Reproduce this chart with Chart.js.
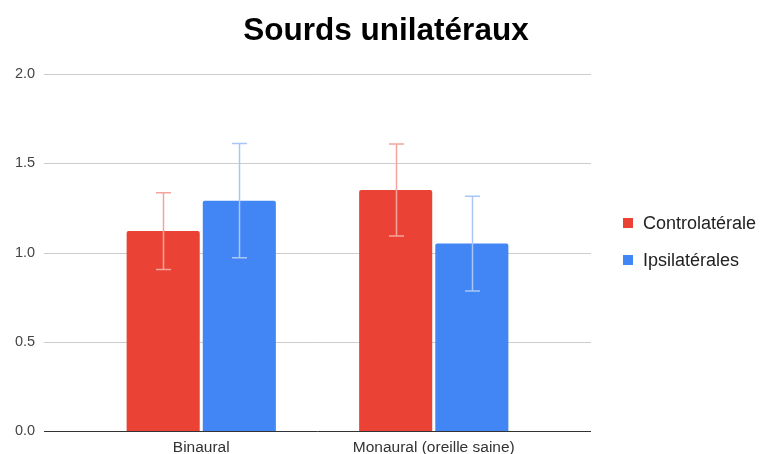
<!DOCTYPE html>
<html>
<head>
<meta charset="utf-8">
<script src="https://cdn.jsdelivr.net/npm/chart.js@4/dist/chart.umd.min.js"></script>
<style>
  html, body { margin: 0; padding: 0; background: #fff; }
  canvas { display: block; }
</style>
</head>
<body>
<canvas id="chart" width="760" height="454"></canvas>
<script>
// Chart data
const categories = ['Binaural', 'Monaural (oreille saine)'];
const seriesNames = ['Controlatérale', 'Ipsilatérales'];
const controlaterale = [1.12, 1.35];
const controlateraleErr = [0.215, 0.258];
const ipsilaterales = [1.29, 1.05];
const ipsilateralesErr = [0.32, 0.265];
const yTicks = [0, 0.5, 1.0, 1.5, 2.0];
const chartTitle = 'Sourds unilatéraux';

const FONT = "'Liberation Sans', Arial, Helvetica, sans-serif";
Chart.defaults.font.family = FONT;

// Horizontal grid lines spanning the full plot width, plus the baseline
const gridPlugin = {
  id: 'wideGrid',
  beforeDatasetsDraw(chart) {
    const { ctx } = chart;
    const y = chart.scales.y;
    const left = 44, right = 591;
    ctx.save();
    yTicks.forEach(v => {
      const py = Math.round(y.getPixelForValue(v)) + 0.5;
      ctx.beginPath();
      ctx.strokeStyle = v === 0 ? '#333333' : '#cccccc';
      ctx.lineWidth = 1;
      ctx.moveTo(left, py);
      ctx.lineTo(right, py);
      ctx.stroke();
    });
    ctx.restore();
  }
};

// Error bars drawn from each dataset's errors array
const errorBarPlugin = {
  id: 'errorBars',
  afterDatasetsDraw(chart) {
    const { ctx } = chart;
    const y = chart.scales.y;
    ctx.save();
    chart.data.datasets.forEach((ds, di) => {
      const meta = chart.getDatasetMeta(di);
      meta.data.forEach((bar, i) => {
        const v = ds.data[i], e = ds.errors[i];
        const x = Math.round(bar.x) + 0.5;
        const yTop = y.getPixelForValue(v + e);
        const yBot = y.getPixelForValue(v - e);
        const cap = 7.5;
        ctx.strokeStyle = ds.errorColor;
        ctx.lineWidth = 1.5;
        ctx.beginPath();
        ctx.moveTo(x, yTop); ctx.lineTo(x, yBot);
        ctx.moveTo(x - cap, yTop); ctx.lineTo(x + cap, yTop);
        ctx.moveTo(x - cap, yBot); ctx.lineTo(x + cap, yBot);
        ctx.stroke();
      });
    });
    ctx.restore();
  }
};

// Title and right-hand legend
const decorPlugin = {
  id: 'decor',
  afterDraw(chart) {
    const { ctx } = chart;
    ctx.save();
    ctx.fillStyle = '#000000';
    ctx.font = 'bold 31.5px ' + FONT;
    ctx.textAlign = 'center';
    ctx.textBaseline = 'alphabetic';
    ctx.fillText(chartTitle, 386, 40);

    ctx.font = '18px ' + FONT;
    ctx.textAlign = 'left';
    ctx.textBaseline = 'middle';
    chart.data.datasets.forEach((ds, i) => {
      const cy = 223 + i * 37;
      ctx.fillStyle = ds.backgroundColor;
      ctx.fillRect(623, cy - 5, 10, 10);
      ctx.fillStyle = '#222222';
      ctx.fillText(ds.label, 643, cy + 1);
    });
    ctx.restore();
  }
};

new Chart(document.getElementById('chart'), {
  type: 'bar',
  data: {
    labels: categories,
    datasets: [
      {
        label: seriesNames[0],
        data: controlaterale,
        errors: controlateraleErr,
        backgroundColor: '#ea4335',
        errorColor: '#f3a49c',
        borderRadius: 2,
        categoryPercentage: 0.655,
        barPercentage: 0.96
      },
      {
        label: seriesNames[1],
        data: ipsilaterales,
        errors: ipsilateralesErr,
        backgroundColor: '#4285f4',
        errorColor: '#a9c6f8',
        borderRadius: 2,
        categoryPercentage: 0.655,
        barPercentage: 0.96
      }
    ]
  },
  options: {
    responsive: false,
    animation: false,
    devicePixelRatio: 1,
    layout: { padding: { top: 74, right: 210, bottom: 0, left: 15 } },
    plugins: {
      legend: { display: false },
      title: { display: false },
      tooltip: { enabled: false }
    },
    scales: {
      x: {
        grid: { display: false, drawTicks: false },
        border: { display: false },
        ticks: {
          color: '#333333',
          font: { size: 15.5 },
          padding: 7,
          maxRotation: 0
        },
        afterFit(scale) { scale.height = 23; }
      },
      y: {
        min: 0,
        max: 2,
        grid: { display: false, drawTicks: false },
        border: { display: false },
        ticks: {
          stepSize: 0.5,
          color: '#444444',
          font: { size: 14.5 },
          padding: 0,
          crossAlign: 'far',
          callback: v => Number(v).toFixed(1)
        },
        afterFit(scale) { scale.width = 70; }
      }
    }
  },
  plugins: [gridPlugin, errorBarPlugin, decorPlugin]
});
</script>
</body>
</html>
